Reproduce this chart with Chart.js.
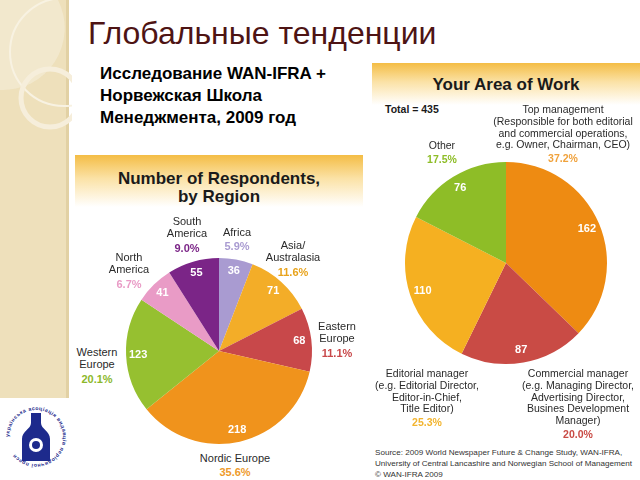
<!DOCTYPE html>
<html>
<head>
<meta charset="utf-8">
<script src="https://cdn.jsdelivr.net/npm/chart.js@4.4.1/dist/chart.umd.min.js"></script>
<style>
    html, body { margin: 0; padding: 0; background: #ffffff; }
    #slide { position: relative; width: 640px; height: 480px; overflow: hidden; font-family: "Liberation Sans", Arial, sans-serif; }
    .abs { position: absolute; }
    .lbl { position: absolute; transform: translateX(-50%); text-align: center; white-space: nowrap; color: #2a2a2a; }
    .lbl b { display: block; }
    canvas { position: absolute; }
</style>
</head>
<body>
<div id="slide">
    <svg class="abs" style="left:0;top:0" width="72" height="480">
        <rect x="0" y="0" width="68" height="480" fill="#eee0bb"/>
        <rect x="66" y="0" width="3" height="480" fill="#e2d1a4"/>
        <path d="M0 0 H58 A62 62 0 0 1 0 90 Z" fill="#f3ead2" opacity="0.8"/>
        <circle cx="64" cy="52" r="54" fill="none" stroke="#f8f2e2" stroke-width="2"/>
        <circle cx="50" cy="98" r="29" fill="none" stroke="#f6eedb" stroke-width="5"/>
        <rect x="0" y="398" width="72" height="82" fill="#ffffff"/>
        <g transform="translate(36,437)">
            <path id="ring" d="M -27 0 A 27 27 0 1 1 27 0 A 27 27 0 1 1 -27 0" fill="none"/>
            <text font-size="5.2" fill="#1d2a8c" font-weight="bold" letter-spacing="0.5">
                <textPath href="#ring">українська асоціація видавців періодичної преси</textPath>
            </text>
            <path d="M -5 -24 H 5 V -14 C 5 -8 14 -6 14 2 V 24 H -14 V 2 C -14 -6 -5 -8 -5 -14 Z" fill="#1d2a8c"/>
            <circle cx="0" cy="8" r="7" fill="#ffffff"/>
            <circle cx="0" cy="8" r="4" fill="#1d2a8c"/>
        </g>
    </svg>

    <div class="abs" style="left:88px;top:15px;font-size:32px;color:#4e1414;">Глобальные тенденции</div>
    <div class="abs" style="left:100px;top:63px;font-size:17px;font-weight:bold;line-height:22px;color:#000;">
        Исследование WAN-IFRA +<br>Норвежская Школа<br>Менеджмента, 2009 год
    </div>

    <div class="abs" style="left:75px;top:155px;width:288px;height:52px;background:linear-gradient(to bottom,#f4bd45 0%,#fbe2a6 45%,#ffffff 100%);"></div>
    <div class="abs" style="left:75px;top:170px;width:288px;text-align:center;font-size:17px;font-weight:bold;line-height:18px;color:#1a1a1a;">
        Number of Respondents,<br>by Region
    </div>

    <div class="abs" style="left:372px;top:63px;width:268px;height:42px;background:linear-gradient(to bottom,#f4bd45 0%,#fbe2a6 45%,#ffffff 100%);"></div>
    <div class="abs" style="left:372px;top:75px;width:268px;text-align:center;font-size:17px;font-weight:bold;color:#1a1a1a;">Your Area of Work</div>
    <div class="abs" style="left:385px;top:103px;font-size:10.5px;font-weight:bold;color:#1a1a1a;">Total = 435</div>

    <div class="abs" style="left:375px;top:447px;font-size:8.1px;line-height:11px;color:#333;white-space:nowrap;">
        Source: 2009 World Newspaper Future &amp; Change Study, WAN-IFRA,<br>University of Central Lancashire and Norwegian School of Management<br>© WAN-IFRA 2009
    </div>

    <canvas id="regionChart" width="200" height="200" style="left:119px;top:251px"></canvas>
    <canvas id="workChart" width="210" height="210" style="left:401px;top:158px"></canvas>
</div>

<script>
const regions = [['Africa'], ['Asia/', 'Australasia'], ['Eastern', 'Europe'], ['Nordic Europe'], ['Western', 'Europe'], ['North', 'America'], ['South', 'America']]
const regionCounts = [36, 71, 68, 218, 123, 41, 55]
const regionColors = ['#a99bd1', '#f3ad28', '#c8484a', '#f0931c', '#96c030', '#e99bc6', '#7b2587']
const regionPctColors = ['#a99bd1', '#e8a31c', '#c8484a', '#ee9a2a', '#8cb82a', '#e99bc6', '#7b2587']

const workAreas = [
    ['Top management', '(Responsible for both editorial', 'and commercial operations,', 'e.g. Owner, Chairman, CEO)'],
    ['Commercial manager', '(e.g. Managing Director,', 'Advertising Director,', 'Busines Development', 'Manager)'],
    ['Editorial manager', '(e.g. Editorial Director,', 'Editor-in-Chief,', 'Title Editor)'],
    ['Other']
]
const workCounts = [162, 87, 110, 76]
const workColors = ['#ee8b12', '#c94b45', '#f5b021', '#8ebd27']
const workPctColors = ['#f0a23c', '#c94b45', '#f2b42e', '#8ebd27']

// label anchor points (centre x, centre y of first line), layout only
const regionLabelPos = [[237, 232], [293, 245], [337, 326], [235, 458], [97, 352], [129, 257], [187, 221]]
const workLabelPos = [[563, 110], [578, 374], [427, 374], [442, 146]]

const sliceValueLabels = {
    id: 'sliceValueLabels',
    afterDatasetsDraw(chart) {
        const ctx = chart.ctx
        const meta = chart.getDatasetMeta(0)
        const values = chart.data.datasets[0].data
        ctx.save()
        ctx.fillStyle = '#ffffff'
        ctx.font = 'bold 11px "Liberation Sans", Arial, sans-serif'
        ctx.textAlign = 'center'
        ctx.textBaseline = 'middle'
        meta.data.forEach((arc, i) => {
            const mid = (arc.startAngle + arc.endAngle) / 2
            const r = arc.outerRadius * 0.87
            ctx.fillText(String(values[i]), arc.x + Math.cos(mid) * r, arc.y + Math.sin(mid) * r)
        })
        ctx.restore()
    }
}

function createPie(canvas, labels, values, colors, pad) {
    return new Chart(canvas, {
        type: 'pie',
        data: {
            labels: labels.map(l => l.join(' ')),
            datasets: [{ data: values, backgroundColor: colors, borderWidth: 0 }]
        },
        options: {
            animation: false,
            responsive: false,
            layout: { padding: pad },
            plugins: { legend: { display: false }, tooltip: { enabled: false } }
        },
        plugins: [sliceValueLabels]
    })
}

function addLabels(labels, values, pctColors, positions, fontSize, lineHeight) {
    const slide = document.getElementById('slide')
    const total = values.reduce((a, b) => a + b, 0)
    labels.forEach((lines, i) => {
        const div = document.createElement('div')
        div.className = 'lbl'
        div.style.left = positions[i][0] + 'px'
        div.style.top = (positions[i][1] - lineHeight / 2) + 'px'
        div.style.fontSize = fontSize + 'px'
        div.style.lineHeight = lineHeight + 'px'
        div.innerHTML = lines.join('<br>')
        const pct = document.createElement('b')
        pct.style.color = pctColors[i]
        pct.style.marginTop = '2px'
        pct.textContent = (values[i] / total * 100).toFixed(1) + '%'
        div.appendChild(pct)
        slide.appendChild(div)
    })
}

createPie(document.getElementById('regionChart'), regions, regionCounts, regionColors, 7)
createPie(document.getElementById('workChart'), workAreas, workCounts, workColors, 4)
addLabels(regions, regionCounts, regionPctColors, regionLabelPos, 11, 12.5)
addLabels(workAreas, workCounts, workPctColors, workLabelPos, 10.5, 11.8)
</script>
</body>
</html>
